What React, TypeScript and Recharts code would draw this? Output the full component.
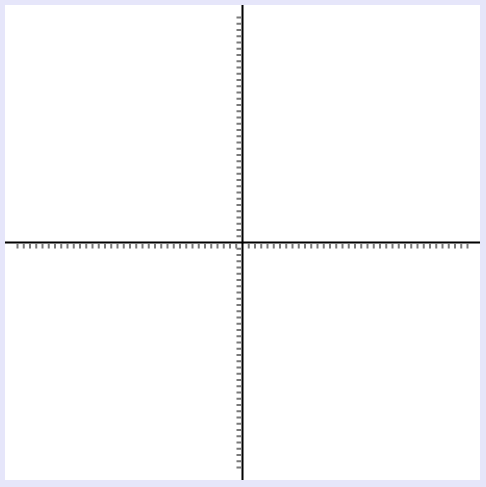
import { ScatterChart, Scatter, XAxis, YAxis, ReferenceLine, ReferenceArea } from 'recharts';

// axis range and tick positions (one tick per unit, the origin tick sits under the axis lines)
const axisDomain = [-38, 38];
const tickValues = [
    -36, -35, -34, -33, -32, -31, -30, -29, -28, -27, -26, -25, -24, -23, -22, -21, -20, -19,
    -18, -17, -16, -15, -14, -13, -12, -11, -10, -9, -8, -7, -6, -5, -4, -3, -2, -1,
    0, 1, 2, 3, 4, 5, 6, 7, 8, 9, 10, 11, 12, 13, 14, 15, 16, 17, 18,
    19, 20, 21, 22, 23, 24, 25, 26, 27, 28, 29, 30, 31, 32, 33, 34, 35, 36,
];

const visibleTicks = tickValues.filter((v) => v !== 0);
const xTickData = visibleTicks.map((v) => ({ x: v, y: 0 }));
const yTickData = visibleTicks.map((v) => ({ x: 0, y: v }));

const XTickMark = ({ cx, cy }: any) => (
    <rect x={cx - 1} y={cy + 1} width={2} height={5} fill="#7a7a7a" />
);

const YTickMark = ({ cx, cy }: any) => (
    <rect x={cx - 6} y={cy - 1} width={5} height={2} fill="#7a7a7a" />
);

export default function App() {
    return (
        <div style={{ position: 'absolute', left: 0, top: 0, width: 486, height: 487, background: '#e6e6fa' }}>
            <ScatterChart width={486} height={487} margin={{ top: 5, right: 6, bottom: 7, left: 5 }}>
                <XAxis type="number" dataKey="x" domain={axisDomain} hide />
                <YAxis type="number" dataKey="y" domain={axisDomain} hide />
                <ReferenceArea x1={-38} x2={38} y1={-38} y2={38} fill="#ffffff" fillOpacity={1} stroke="none" />
                <Scatter data={xTickData} shape={<XTickMark />} isAnimationActive={false} />
                <Scatter data={yTickData} shape={<YTickMark />} isAnimationActive={false} />
                <ReferenceLine x={0} stroke="#000000" strokeWidth={2} />
                <ReferenceLine y={0} stroke="#000000" strokeWidth={2} />
            </ScatterChart>
        </div>
    );
}
